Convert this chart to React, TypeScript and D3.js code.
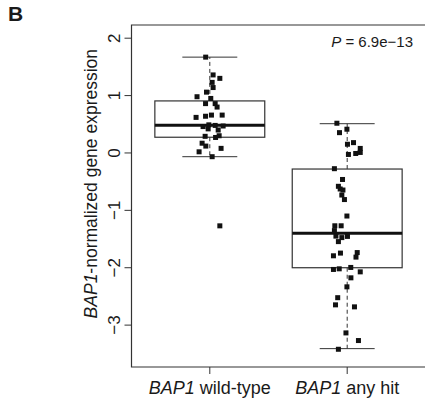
import React, { useEffect, useRef } from "react";
import * as d3 from "d3";

// group labels (italic gene name + rest)
const groups = ["wild-type", "any hit"];

// y ticks
const yTicks = [2, 1, 0, -1, -2, -3];

// box stats: [lowWhisker, q1, median, q3, highWhisker]
const wildTypeBox = [-0.065, 0.274, 0.483, 0.907, 1.67];
const anyHitBox = [-3.41, -2.0, -1.4, -0.28, 0.51];

// points: expression values and horizontal jitter (category units)
const wildTypeValues = [
  1.67, 1.36, 1.3, 1.23, 1.14, 1.06, 0.98, 0.95, 0.86, 0.86, 0.8, 0.62, 0.64,
  0.66, 0.66, 0.46, 0.49, 0.48, 0.47, 0.42, 0.4, 0.3, 0.29, 0.27, 0.17, 0.12,
  0.02, 0.08, -0.065, -1.27,
];
const wildTypeJitter = [
  -0.03, 0.024, 0.073, 0.017, 0.024, -0.024, -0.093, 0.007, -0.031, 0.039,
  0.053, -0.1, -0.031, 0.012, 0.09, -0.049, -0.007, 0.039, 0.097, -0.012,
  0.061, 0.068, -0.034, 0.042, -0.056, -0.029, -0.078, 0.082, 0.017, 0.073,
];
const anyHitValues = [
  0.518, 0.354, 0.414, 0.152, 0.18, -0.026, -0.009, 0.079, 0.009, -0.274,
  -0.462, -0.581, -0.628, -0.646, -0.733, -0.812, -1.099, -1.269, -1.269,
  -1.353, -1.449, -1.545, -1.475, -1.454, -1.792, -1.745, -1.736, -1.815,
  -2.03, -2.019, -1.995, -2.072, -2.176, -2.333, -2.522, -2.647, -2.682,
  -3.136, -3.269, -3.421,
];
const anyHitJitter = [
  -0.075, -0.056, -0.002, 0.002, 0.046, 0.009, 0.062, 0.095, 0.095, -0.093,
  -0.034, -0.064, -0.051, -0.031, -0.039, -0.02, -0.002, -0.09, -0.044,
  -0.093, -0.082, -0.064, -0.039, 0.002, -0.1, -0.049, 0.073, 0.064, -0.1,
  -0.058, 0.026, 0.095, 0.027, -0.002, -0.069, -0.085, 0.053, -0.009, 0.082,
  -0.064,
];

const FONT = "'Liberation Sans', Arial, Helvetica, sans-serif";
const INK = "#1a1a1a";

const App = () => {
  const svgRef = useRef<SVGSVGElement>(null);

  useEffect(() => {
    const svg = d3.select(svgRef.current);
    svg.selectAll("*").remove();

    const x = d3.scaleLinear().domain([0.43, 2.57]).range([131.5, 425.5]);
    const y = d3.scaleLinear().domain([-3.73, 2.23]).range([367, 25]);

    const boxes = [wildTypeBox, anyHitBox];
    const pts = [
      wildTypeValues.map((v, i) => ({ v, j: wildTypeJitter[i] })),
      anyHitValues.map((v, i) => ({ v, j: anyHitJitter[i] })),
    ];

    // panel letter
    svg
      .append("text")
      .attr("x", 8)
      .attr("y", 21)
      .attr("font-family", FONT)
      .attr("font-weight", "bold")
      .attr("font-size", 21)
      .attr("fill", INK)
      .text("B");

    // frame (right side runs off the page)
    const [x0, x1] = x.range();
    const [yb, yt] = y.range();
    svg
      .append("path")
      .attr("d", `M${x1},${yt}H${x0}V${yb}H${x1}`)
      .attr("fill", "none")
      .attr("stroke", "#333")
      .attr("stroke-width", 1.2);

    // y axis ticks + labels
    const ya = svg.append("g");
    yTicks.forEach((t) => {
      ya.append("line")
        .attr("x1", x0 - 7)
        .attr("x2", x0)
        .attr("y1", y(t))
        .attr("y2", y(t))
        .attr("stroke", "#333");
      ya.append("text")
        .attr("transform", `translate(${x0 - 12},${y(t)}) rotate(-90)`)
        .attr("text-anchor", "middle")
        .attr("font-family", FONT)
        .attr("font-size", 17)
        .attr("fill", INK)
        .text(t < 0 ? `\u2212${Math.abs(t)}` : `${t}`);
    });

    // y axis label
    const yl = svg
      .append("text")
      .attr("transform", `translate(97,${(y(2) + y(-3)) / 2 + 2}) rotate(-90)`)
      .attr("text-anchor", "middle")
      .attr("font-family", FONT)
      .attr("font-size", 17.5)
      .attr("fill", INK);
    yl.append("tspan").attr("font-style", "italic").text("BAP1");
    yl.append("tspan").text("-normalized gene expression");

    // x ticks + labels
    groups.forEach((g, i) => {
      const cx = x(i + 1);
      svg
        .append("line")
        .attr("x1", cx)
        .attr("x2", cx)
        .attr("y1", yb)
        .attr("y2", yb + 7)
        .attr("stroke", "#333");
      const t = svg
        .append("text")
        .attr("x", cx)
        .attr("y", 394)
        .attr("text-anchor", "middle")
        .attr("font-family", FONT)
        .attr("font-size", 18)
        .attr("fill", INK);
      t.append("tspan").attr("font-style", "italic").text("BAP1");
      t.append("tspan").text(` ${g}`);
    });

    // boxplots
    boxes.forEach((b, i) => {
      const c = i + 1;
      const g = svg.append("g");
      const [lo, q1, med, q3, hi] = b;
      // whiskers (dashed)
      g.append("line")
        .attr("x1", x(c))
        .attr("x2", x(c))
        .attr("y1", y(q3))
        .attr("y2", y(hi))
        .attr("stroke", "#333")
        .attr("stroke-dasharray", "4,3");
      g.append("line")
        .attr("x1", x(c))
        .attr("x2", x(c))
        .attr("y1", y(q1))
        .attr("y2", y(lo))
        .attr("stroke", "#333")
        .attr("stroke-dasharray", "4,3");
      // caps
      [lo, hi].forEach((v) =>
        g
          .append("line")
          .attr("x1", x(c - 0.2))
          .attr("x2", x(c + 0.2))
          .attr("y1", y(v))
          .attr("y2", y(v))
          .attr("stroke", "#333")
      );
      // box
      g.append("rect")
        .attr("x", x(c - 0.4))
        .attr("width", x(c + 0.4) - x(c - 0.4))
        .attr("y", y(q3))
        .attr("height", y(q1) - y(q3))
        .attr("fill", "none")
        .attr("stroke", "#333")
        .attr("stroke-width", 1.2);
      // median
      g.append("line")
        .attr("x1", x(c - 0.4))
        .attr("x2", x(c + 0.4))
        .attr("y1", y(med))
        .attr("y2", y(med))
        .attr("stroke", "#111")
        .attr("stroke-width", 3);
    });

    // points
    const s = 5;
    pts.forEach((arr, i) => {
      svg
        .append("g")
        .selectAll("rect")
        .data(arr)
        .enter()
        .append("rect")
        .attr("x", (d) => x(i + 1 + d.j) - s / 2)
        .attr("y", (d) => y(d.v) - s / 2)
        .attr("width", s)
        .attr("height", s)
        .attr("fill", "#111");
    });

    // p-value
    const p = svg
      .append("text")
      .attr("x", 413)
      .attr("y", 47)
      .attr("text-anchor", "end")
      .attr("font-family", FONT)
      .attr("font-size", 15)
      .attr("fill", INK);
    p.append("tspan").attr("font-style", "italic").text("P");
    p.append("tspan").text(" = 6.9e\u221213");
  }, []);

  return (
    <svg
      ref={svgRef}
      width={425}
      height={404}
      style={{ position: "absolute", left: 0, top: 0, background: "#fff" }}
    ></svg>
  );
};

export default App;
